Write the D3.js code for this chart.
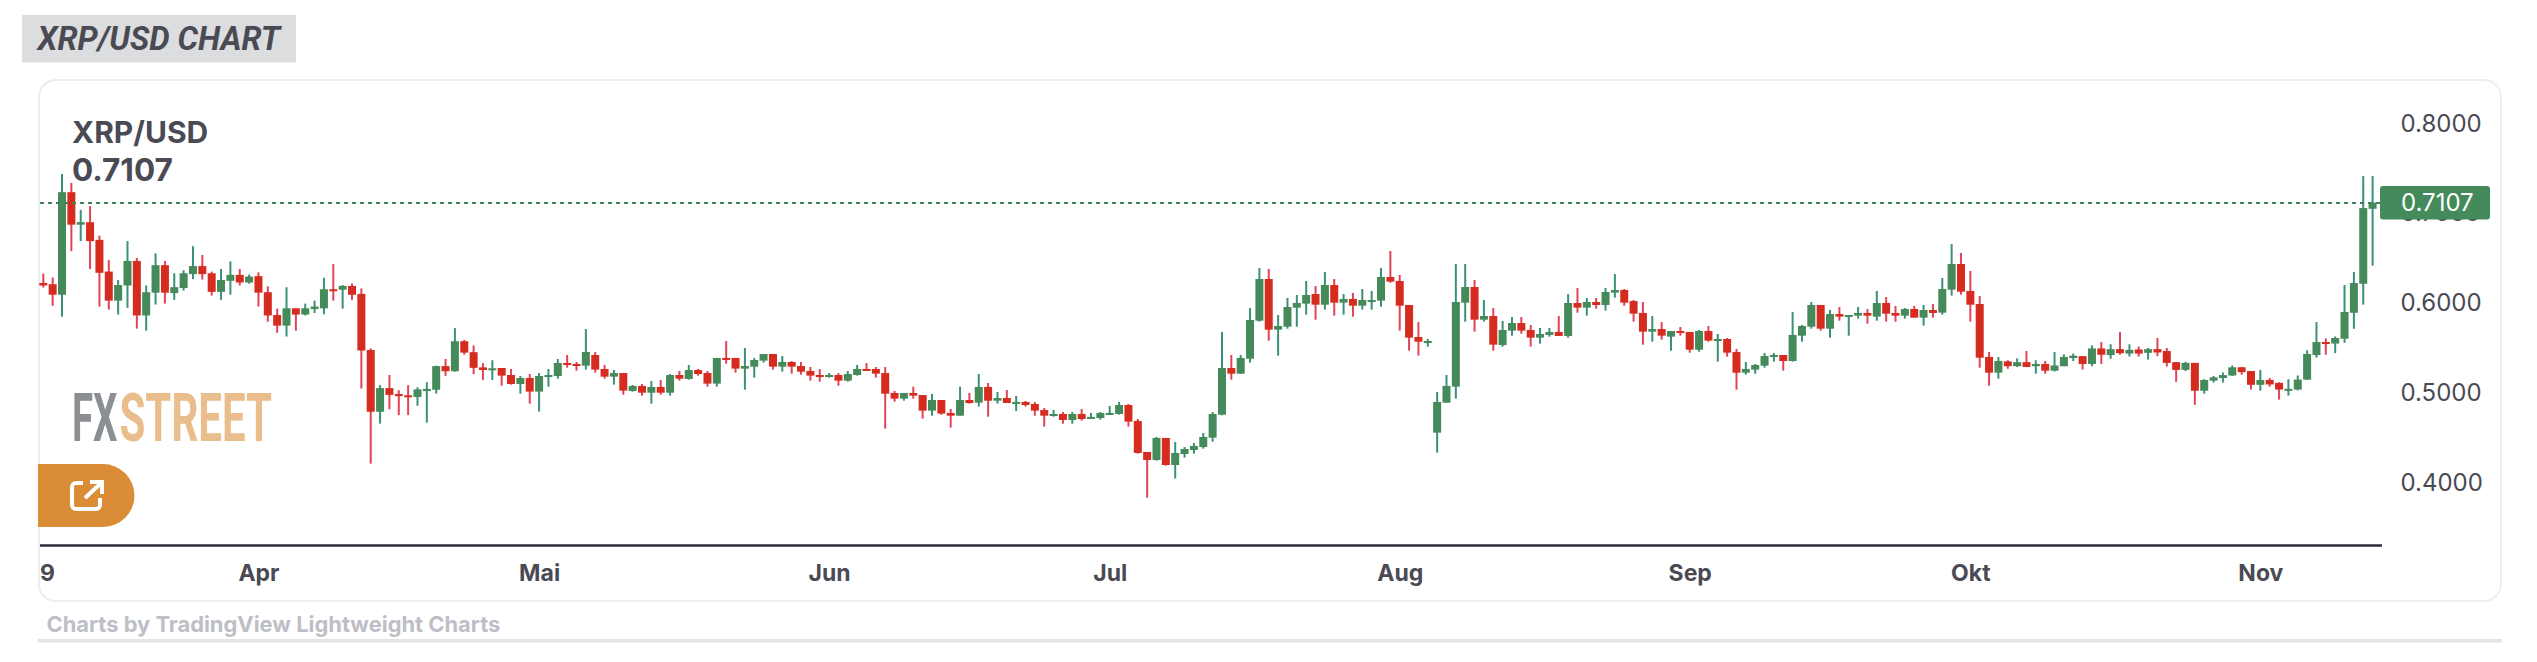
<!DOCTYPE html>
<html><head><meta charset="utf-8">
<script src="https://cdnjs.cloudflare.com/ajax/libs/d3/7.8.5/d3.min.js"></script>
<style>html,body{margin:0;padding:0;background:#fff}svg{display:block}</style>
</head><body><svg id="c" width="2537" height="662"></svg>
<script>
const opens=[.6212,.6198,.6081,.7223,.6861,.6889,.6692,.6339,.6015,.6184,.6457,.5850,.6104,.6410,.6099,.6156,.6311,.6400,.6320,.6113,.6236,.6302,.6217,.6288,.6109,.5855,.5737,.5930,.5860,.5921,.5930,.6142,.6137,.6179,.6090,.5465,.4778,.5041,.4975,.4961,.4943,.5023,.5023,.5286,.5229,.5563,.5441,.5272,.5248,.5265,
.5187,.5087,.5154,.5002,.5165,.5176,.5321,.5310,.5291,.5410,.5254,.5169,.5209,.5009,.5065,.4990,.5054,.4990,.5187,.5143,.5243,.5209,.5091,.5377,.5377,.5258,.5280,.5347,.5421,.5280,.5332,.5287,.5232,.5187,.5169,.5187,.5124,.5187,.5254,.5254,.5209,.4987,.4924,.4987,.4964,.4790,.4909,.4764,.4734,.4909,
.4879,.5054,.4901,.4931,.4875,.4887,.4864,.4797,.4731,.4753,.4686,.4753,.4712,.4708,.4753,.4753,.4853,.4675,.4330,.4241,.4486,.4185,.4307,.4352,.4385,.4489,.4745,.5265,.5202,.5369,.5792,.6256,.5692,.5725,.5937,.5982,.6089,.5970,.6189,.5993,.6034,.5959,.6015,.6015,.6279,.6234,.5967,.5610,.5558,.4545,
.4879,.5057,.5993,.6167,.5803,.5844,.5521,.5681,.5766,.5688,.5603,.5633,.5666,.5622,.5989,.5937,.6000,.5967,.6104,.6134,.6011,.5878,.5670,.5699,.5614,.5677,.5666,.5469,.5677,.5570,.5588,.5443,.5213,.5247,.5291,.5391,.5410,.5343,.5625,.5725,.5967,.5703,.5866,.5837,.5848,.5878,.5837,.5989,.5878,.5848,
.5922,.5826,.5911,.5881,.6137,.6423,.6123,.5978,.5388,.5213,.5339,.5285,.5330,.5285,.5310,.5235,.5285,.5376,.5397,.5310,.5483,.5409,.5475,.5426,.5471,.5434,.5475,.5454,.5330,.5244,.5322,.5012,.5124,.5153,.5182,.5273,.5231,.5078,.5132,.5099,.5025,.5025,.5136,.5409,.5554,.5537,.5591,.5880,.6203,.7038];
const highs=[.6316,.6273,.7426,.7327,.7026,.7068,.6739,.6466,.6245,.6678,.6490,.6184,.6541,.6457,.6320,.6353,.6621,.6523,.6339,.6367,.6452,.6367,.6306,.6330,.6175,.5925,.6165,.5930,.5982,.6015,.6269,.6424,.6189,.6207,.6151,.5483,.5074,.5187,.5018,.5074,.5051,.5107,.5291,.5366,.5709,.5577,.5516,.5319,.5352,.5265,
.5254,.5176,.5198,.5209,.5254,.5365,.5410,.5332,.5699,.5443,.5299,.5243,.5209,.5076,.5087,.5120,.5132,.5198,.5232,.5299,.5254,.5232,.5377,.5566,.5377,.5488,.5377,.5421,.5421,.5399,.5343,.5332,.5276,.5254,.5209,.5209,.5232,.5299,.5321,.5276,.5276,.5009,.4987,.5057,.4964,.4976,.4909,.4809,.5057,.4987,
.5198,.5098,.4998,.5020,.4953,.4898,.4887,.4820,.4797,.4775,.4775,.4809,.4764,.4775,.4842,.4887,.4864,.4697,.4330,.4497,.4486,.4441,.4385,.4430,.4541,.4775,.5666,.5410,.5410,.5933,.6379,.6368,.5855,.6045,.6078,.6234,.6178,.6334,.6256,.6089,.6100,.6145,.6123,.6379,.6568,.6301,.5967,.5777,.5588,.4998,
.5187,.6423,.6423,.6245,.6022,.5933,.5789,.5833,.5833,.5744,.5711,.5711,.5844,.6089,.6156,.6045,.6045,.6156,.6312,.6145,.6022,.6000,.5844,.5777,.5677,.5722,.5666,.5688,.5733,.5644,.5599,.5477,.5332,.5310,.5432,.5432,.5410,.5889,.5744,.6000,.5967,.5911,.5944,.5855,.5944,.5922,.6123,.6056,.5956,.5933,
.5956,.5967,.5978,.6267,.6646,.6546,.6345,.6067,.5443,.5388,.5351,.5372,.5454,.5351,.5343,.5442,.5417,.5426,.5397,.5517,.5554,.5529,.5665,.5529,.5504,.5488,.5599,.5488,.5330,.5335,.5322,.5140,.5177,.5215,.5293,.5277,.5231,.5244,.5153,.5107,.5140,.5182,.5463,.5777,.5595,.5616,.6190,.6335,.7402,.7402];
const lows=[.6161,.5958,.5836,.6565,.6678,.6367,.5949,.5916,.5860,.5935,.5704,.5681,.5972,.5982,.6024,.6128,.6255,.6250,.6071,.6024,.6081,.6184,.6203,.5949,.5780,.5657,.5615,.5681,.5850,.5878,.5864,.6015,.5925,.6024,.5037,.4200,.4646,.4806,.4740,.4740,.4844,.4656,.4980,.5178,.5225,.5413,.5196,.5131,.5131,.5068,
.5080,.4979,.4868,.4779,.5057,.5146,.5269,.5235,.5247,.5213,.5146,.5080,.4968,.5002,.4957,.4868,.4968,.4957,.5124,.5135,.5180,.5057,.5057,.5313,.5213,.5024,.5158,.5325,.5247,.5224,.5202,.5191,.5124,.5113,.5158,.5068,.5113,.5180,.5235,.5158,.4590,.4890,.4901,.4924,.4701,.4734,.4745,.4601,.4734,.4868,
.4835,.4723,.4868,.4875,.4786,.4835,.4734,.4612,.4723,.4645,.4645,.4679,.4708,.4690,.4745,.4745,.4612,.4311,.3821,.4233,.4178,.4033,.4267,.4311,.4367,.4445,.4738,.5135,.5198,.5325,.5781,.5570,.5403,.5703,.5725,.5859,.5803,.5915,.5848,.5859,.5837,.5915,.5915,.5948,.6215,.5681,.5458,.5403,.5503,.4322,
.4879,.4924,.5781,.5670,.5781,.5458,.5503,.5625,.5647,.5503,.5536,.5614,.5622,.5603,.5881,.5848,.5926,.5904,.6048,.5959,.5781,.5525,.5558,.5581,.5458,.5625,.5436,.5447,.5558,.5336,.5391,.5024,.5191,.5202,.5269,.5336,.5235,.5336,.5558,.5703,.5681,.5603,.5792,.5625,.5815,.5759,.5792,.5781,.5781,.5815,
.5826,.5737,.5826,.5859,.6071,.6082,.5781,.5269,.5068,.5146,.5256,.5277,.5277,.5202,.5202,.5227,.5285,.5343,.5248,.5285,.5310,.5368,.5413,.5393,.5393,.5359,.5397,.5281,.5111,.5231,.4855,.4979,.5103,.5103,.5177,.5190,.5025,.5012,.5058,.4913,.4958,.5016,.5132,.5380,.5413,.5430,.5545,.5702,.5971,.6405];
const closes=[.6184,.6081,.7223,.6861,.6889,.6678,.6325,.6015,.6189,.6457,.5850,.6109,.6410,.6104,.6165,.6320,.6400,.6311,.6113,.6245,.6302,.6217,.6283,.6104,.5850,.5737,.5930,.5860,.5930,.5949,.6142,.6132,.6179,.6081,.5460,.4778,.5041,.4966,.4952,.4943,.5027,.5032,.5286,.5229,.5563,.5436,.5267,.5243,.5262,.5180,
.5087,.5154,.5002,.5176,.5187,.5321,.5299,.5287,.5443,.5247,.5169,.5209,.5013,.5065,.4990,.5054,.4990,.5187,.5146,.5243,.5198,.5091,.5377,.5365,.5258,.5287,.5354,.5421,.5280,.5332,.5280,.5224,.5180,.5169,.5187,.5124,.5198,.5254,.5243,.5202,.4979,.4924,.4987,.4957,.4790,.4909,.4757,.4734,.4909,.4875,
.5054,.4901,.4931,.4875,.4887,.4853,.4790,.4734,.4753,.4686,.4753,.4697,.4720,.4764,.4764,.4853,.4668,.4319,.4241,.4486,.4185,.4319,.4363,.4397,.4497,.4753,.5265,.5202,.5377,.5800,.6256,.5692,.5733,.5944,.5989,.6078,.5970,.6189,.5993,.6034,.5959,.6022,.6022,.6279,.6227,.5959,.5603,.5558,.5566,.4887,
.5065,.6000,.6167,.5803,.5844,.5525,.5688,.5766,.5681,.5603,.5644,.5666,.5622,.5989,.5937,.6000,.5967,.6111,.6134,.5993,.5870,.5670,.5699,.5625,.5677,.5655,.5469,.5677,.5570,.5588,.5436,.5213,.5254,.5299,.5399,.5410,.5343,.5633,.5733,.5967,.5703,.5866,.5837,.5855,.5878,.5848,.5989,.5870,.5848,.5922,
.5826,.5911,.5878,.6145,.6423,.6115,.5970,.5380,.5213,.5343,.5285,.5330,.5277,.5310,.5235,.5293,.5388,.5401,.5310,.5483,.5413,.5475,.5430,.5467,.5426,.5475,.5438,.5322,.5244,.5322,.5012,.5132,.5161,.5186,.5273,.5219,.5078,.5132,.5082,.5025,.5033,.5136,.5421,.5554,.5537,.5599,.5889,.6211,.7046,.7107];
const priceTicks=[.4,.5,.6,.7,.8];
const monthLabels=["9","Apr","Mai","Jun","Jul","Aug","Sep","Okt","Nov"];
const monthBars=[0.4,23,53,84,114,145,176,206,237];
const lastPrice=.7107;
const pair="XRP/USD";

const G="#458a5b",GW="#3a9178",R="#d62c20",RW="#e24355",INK="#4a4a54",SANS="Inter, 'Noto Sans', sans-serif";
const svg=d3.select("#c");
const x=d3.scaleLinear().domain([0,249]).range([43.3,2372.6]);
const y=d3.scaleLinear().domain([.4,.8]).range([481.6,122.4]);
const bars=d3.range(opens.length);

// page furniture
svg.append("rect").attr("x",22).attr("y",15).attr("width",274).attr("height",47.5).attr("fill","#dcddde");
svg.append("text").attr("x",37.5).attr("y",50).attr("font-family","Roboto").attr("font-style","italic").attr("font-weight",700).attr("font-size",32.3).attr("fill",INK).text("XRP/USD CHART");
svg.append("rect").attr("x",39).attr("y",80).attr("width",2462).attr("height",521).attr("rx",17).attr("fill","#fff").attr("stroke","#eceef2").attr("stroke-width",2);
svg.append("text").attr("x",46.5).attr("y",632).attr("font-family",SANS).attr("font-weight",700).attr("font-size",21.9).attr("fill","#bdbec6").text("Charts by TradingView Lightweight Charts");
svg.append("rect").attr("x",38).attr("y",639).attr("width",2464).attr("height",3.5).attr("fill","#e3e3e3");

// watermark + button
const fx=svg.append("g").attr("font-family","Roboto").attr("font-weight",700).attr("font-size",67.5);
fx.append("text").attr("x",72).attr("y",441).attr("fill","#8b8e92").attr("textLength",45.5).attr("lengthAdjust","spacingAndGlyphs").text("FX");
fx.append("text").attr("x",119.5).attr("y",441).attr("fill","#e9bd8c").attr("textLength",152.5).attr("lengthAdjust","spacingAndGlyphs").text("STREET");
svg.append("path").attr("d","M38 464H103A31.5 31.5 0 0 1 103 527H38Z").attr("fill","#da8c37");
svg.append("path").attr("d","M83 483H76A4 4 0 0 0 72 487V505A4 4 0 0 0 76 509H96A4 4 0 0 0 100 505V498M85 498L100 484M90 482H102V494").attr("fill","none").attr("stroke","#fff").attr("stroke-width",4);

// axes
const ax=svg.append("g").attr("transform","translate(0,545.5)").call(d3.axisBottom(x).tickValues(monthBars).tickSize(0).tickPadding(19).tickFormat((d,i)=>monthLabels[i]));
ax.select(".domain").attr("d","M40 0H2382").attr("stroke","#2b2b3b").attr("stroke-width",2.5);
ax.selectAll("text").attr("font-family",SANS).attr("font-weight",700).attr("font-size",23).attr("fill",INK);
const ay=svg.append("g").attr("transform","translate(2382,0)").call(d3.axisRight(y).tickValues(priceTicks).tickSize(0).tickPadding(18.5).tickFormat(d3.format(".4f")));
ay.select(".domain").remove();
ay.selectAll("text").attr("dy","0.36em").attr("font-family",SANS).attr("font-size",24).attr("fill",INK);

// candles
svg.append("g").attr("stroke-width",2).selectAll("line").data(bars).join("line")
 .attr("x1",i=>x(i)).attr("x2",i=>x(i)).attr("y1",i=>y(highs[i])).attr("y2",i=>y(lows[i]))
 .attr("stroke",i=>closes[i]>=opens[i]?GW:RW);
svg.append("g").selectAll("rect").data(bars).join("rect")
 .attr("x",i=>x(i)-4).attr("width",8)
 .attr("y",i=>y(Math.max(opens[i],closes[i])))
 .attr("height",i=>Math.max(2,Math.abs(y(opens[i])-y(closes[i]))))
 .attr("fill",i=>closes[i]>=opens[i]?G:R);

// last price
const ly=Math.round(y(lastPrice));
svg.append("line").attr("x1",40).attr("x2",2382).attr("y1",ly).attr("y2",ly).attr("stroke","#3f7f58").attr("stroke-width",2).attr("stroke-dasharray","4 4").attr("shape-rendering","crispEdges");
svg.append("rect").attr("x",2380).attr("y",y(lastPrice)-16.5).attr("width",110).attr("height",33.5).attr("rx",3).attr("fill",G);
svg.append("text").attr("x",2401).attr("y",y(lastPrice)+8.8).attr("font-family",SANS).attr("font-size",24).attr("fill","#fff").text(d3.format(".4f")(lastPrice));

// legend
const lg=svg.append("g").attr("font-family",SANS).attr("font-weight",700).attr("fill",INK);
lg.append("text").attr("x",72).attr("y",143).attr("font-size",30).text(pair);
lg.append("text").attr("x",72).attr("y",181).attr("font-size",31.5).text(d3.format(".4f")(lastPrice));
</script></body></html>
